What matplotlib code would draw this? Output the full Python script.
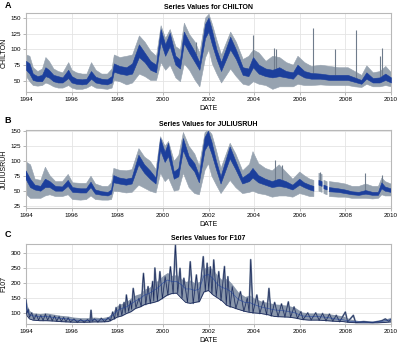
import numpy as np
import matplotlib
matplotlib.use('Agg')
from matplotlib import pyplot as plt

nan = np.nan

# A: CHILTON (dates in fractional years; outer envelope hi/lo, dense core chi/clo)
a_t = [1994.0, 1994.15, 1994.3, 1994.5, 1994.7, 1994.85, 1995.0, 1995.2, 1995.4, 1995.6,
       1995.85, 1996.0, 1996.2, 1996.45, 1996.65, 1996.85, 1997.05, 1997.3, 1997.55, 1997.75,
       1997.85, 1998.1, 1998.4, 1998.65, 1998.95, 1999.2, 1999.45, 1999.7, 1999.9, 2000.1,
       2000.3, 2000.55, 2000.75, 2000.92, 2001.15, 2001.4, 2001.6, 2001.85, 2002.0, 2002.15,
       2002.35, 2002.55, 2002.95, 2003.2, 2003.5, 2003.75, 2003.95, 2004.2, 2004.5, 2004.8,
       2005.1, 2005.4, 2005.7, 2005.9, 2006.2, 2006.5, 2006.9, 2007.3, 2007.7, 2008.1,
       2008.4, 2008.7, 2008.92, 2009.2, 2009.5, 2009.75, 2010.0]
a_hi = [92, 90, 72, 66, 70, 88, 82, 70, 66, 64,
        80, 68, 64, 62, 62, 80, 68, 62, 62, 70,
        92, 88, 90, 92, 122, 112, 98, 90, 138, 118,
        132, 105, 100, 142, 124, 112, 95, 150, 156, 140,
        115, 92, 128, 112, 85, 90, 100, 95, 82, 90,
        88, 80, 76, 90, 80, 74, 76, 74, 72, 72,
        66, 60, 75, 64, 66, 74, 64]
a_chi = [82, 78, 62, 58, 60, 72, 68, 60, 58, 56,
         68, 58, 54, 53, 54, 66, 57, 54, 53, 58,
         78, 74, 72, 78, 108, 95, 82, 76, 132, 108,
         126, 90, 84, 128, 112, 96, 80, 140, 150, 130,
         100, 80, 120, 100, 72, 70, 88, 76, 70, 68,
         72, 66, 64, 76, 66, 63, 62, 60, 60, 60,
         56, 52, 64, 55, 56, 62, 56]
a_clo = [68, 62, 52, 50, 50, 58, 56, 50, 48, 48,
         55, 48, 46, 45, 46, 54, 48, 46, 45, 48,
         65, 62, 60, 62, 88, 80, 68, 64, 112, 90,
         105, 76, 70, 110, 95, 80, 68, 118, 128, 108,
         85, 66, 100, 85, 60, 58, 72, 62, 58, 56,
         58, 56, 54, 62, 56, 54, 54, 52, 52, 52,
         49, 46, 54, 48, 48, 52, 48]
a_lo = [58, 50, 44, 43, 44, 48, 46, 42, 40, 40,
        44, 40, 38, 38, 40, 44, 40, 39, 38, 40,
        52, 50, 45, 48, 62, 58, 52, 52, 80, 68,
        76, 56, 50, 78, 68, 52, 42, 88, 100, 78,
        62, 48, 70, 58, 46, 44, 50, 46, 44, 38,
        42, 42, 42, 46, 44, 44, 45, 44, 44, 44,
        42, 41, 46, 42, 42, 44, 42]
a_spike_t = [2001.45, 2003.95, 2004.85, 2004.97, 2006.6, 2007.55, 2008.45, 2009.5, 2009.6]
a_spike_top = [112, 122, 102, 100, 133, 100, 131, 90, 102]

# B: JULIUSRUH (nan = missing data)
b_t = [1994.0, 1994.2, 1994.4, 1994.65, 1994.85, 1995.05, 1995.3, 1995.6, 1995.85, 1996.05,
       1996.4, 1996.65, 1996.85, 1997.05, 1997.35, 1997.6, 1997.75, 1997.85, 1998.1, 1998.4,
       1998.65, 1998.95, 1999.2, 1999.45, 1999.7, 1999.9, 2000.1, 2000.25, 2000.5, 2000.7,
       2000.9, 2001.15, 2001.4, 2001.6, 2001.85, 2002.0, 2002.15, 2002.35, 2002.55, 2002.95,
       2003.2, 2003.5, 2003.8, 2003.95, 2004.2, 2004.5, 2004.8, 2005.1, 2005.4, 2005.7,
       2006.0, 2006.2, 2006.45, 2006.62, 2006.66, 2006.84, 2006.98, 2007.02, 2007.06, 2007.2,
       2007.25, 2007.3, 2007.7, 2008.0, 2008.3, 2008.6, 2008.9, 2009.2, 2009.45, 2009.6,
       2009.75, 2010.0]
b_hi = [99, 94, 70, 68, 90, 76, 66, 66, 78, 64,
        63, 63, 75, 62, 58, 58, 64, 88, 85, 84,
        86, 121, 107, 100, 86, 141, 125, 133, 100, 110,
        148, 125, 112, 92, 148, 152, 145, 118, 88, 130,
        112, 84, 95, 116, 96, 88, 84, 94, 82, 70,
        82, 76, 70, 68, nan, 80, 78, nan, 68, 66,
        nan, 66, 64, 62, 58, 58, 62, 58, 58, 72,
        66, 62]
b_chi = [84, 70, 60, 58, 70, 66, 58, 57, 68, 56,
         54, 54, 65, 52, 49, 48, 52, 76, 72, 70,
         72, 110, 94, 84, 72, 138, 115, 130, 82, 88,
         138, 108, 96, 76, 140, 150, 132, 100, 74, 124,
         100, 72, 80, 88, 76, 70, 66, 70, 66, 60,
         70, 64, 60, 58, nan, 68, 66, nan, 60, 58,
         nan, 56, 54, 52, 49, 48, 51, 48, 48, 64,
         57, 54]
b_clo = [70, 56, 52, 50, 56, 56, 50, 50, 58, 48,
         47, 47, 56, 45, 43, 42, 45, 64, 62, 60,
         62, 94, 80, 70, 62, 118, 98, 108, 70, 74,
         118, 94, 82, 64, 118, 128, 112, 86, 62, 104,
         86, 62, 66, 72, 64, 60, 56, 58, 56, 52,
         60, 56, 52, 50, nan, 60, 58, nan, 54, 52,
         nan, 49, 48, 46, 44, 43, 45, 43, 43, 54,
         50, 48]
b_lo = [45, 38, 38, 38, 42, 44, 41, 41, 44, 36,
        35, 36, 42, 36, 35, 35, 36, 50, 49, 47,
        48, 60, 55, 50, 47, 80, 66, 72, 50, 52,
        80, 56, 46, 44, 85, 96, 75, 60, 46, 68,
        56, 46, 48, 50, 46, 44, 40, 42, 42, 40,
        46, 44, 41, 41, nan, 50, 48, nan, 46, 44,
        nan, 41, 40, 40, 38, 38, 38, 37, 38, 44,
        42, 42]
b_spike_t = [2004.9, 2005.2, 2006.9, 2008.85, 2009.62]
b_spike_top = [102, 94, 82, 80, 77]

# C: F107 envelope
c_t = [1994.0, 1994.05, 1994.15, 1994.3, 1994.6, 1994.9, 1995.2, 1995.5, 1995.8, 1996.1,
       1996.4, 1996.7, 1997.0, 1997.3, 1997.6, 1997.8, 1998.0, 1998.2, 1998.4, 1998.6,
       1998.8, 1999.0, 1999.2, 1999.4, 1999.6, 1999.8, 2000.0, 2000.2, 2000.4, 2000.6,
       2000.8, 2001.0, 2001.2, 2001.4, 2001.6, 2001.8, 2002.0, 2002.2, 2002.4, 2002.6,
       2002.8, 2003.0, 2003.3, 2003.6, 2003.8, 2004.0, 2004.3, 2004.6, 2004.9, 2005.2,
       2005.5, 2005.8, 2006.1, 2006.4, 2006.8, 2007.2, 2007.55, 2007.9, 2008.2, 2008.6,
       2009.0, 2009.4, 2009.7, 2010.0]
c_hi = [143, 125, 108, 100, 98, 100, 96, 92, 90, 86,
        84, 84, 86, 84, 88, 103, 125, 132, 138, 150,
        160, 165, 180, 185, 200, 210, 225, 235, 225, 228,
        215, 205, 210, 200, 205, 250, 255, 245, 225, 210,
        215, 200, 170, 155, 160, 150, 140, 135, 130, 128,
        125, 118, 103, 100, 100, 98, 94, 90, 80, 74,
        72, 72, 78, 86]
c_mid = [130, 110, 95, 90, 88, 88, 85, 82, 80, 76,
         75, 75, 77, 76, 80, 92, 108, 115, 120, 130,
         140, 148, 160, 165, 175, 185, 200, 210, 205, 205,
         195, 180, 180, 175, 180, 225, 228, 215, 195, 185,
         180, 170, 145, 135, 135, 128, 120, 115, 110, 108,
         105, 100, 90, 88, 88, 85, 80, 77, 72, 70,
         69, 70, 73, 78]
c_lo = [105, 90, 80, 76, 74, 74, 73, 71, 70, 69,
        69, 69, 70, 70, 71, 78, 86, 90, 98, 104,
        115, 120, 128, 132, 135, 140, 150, 160, 165, 166,
        150, 135, 132, 135, 138, 170, 175, 160, 150, 140,
        125, 120, 112, 105, 102, 100, 98, 94, 88, 87,
        86, 83, 78, 76, 76, 74, 72, 71, 68, 67,
        67, 67, 68, 70]
# C: visible peaks and troughs (rotation bursts)
c_pk_t = [1994.0, 1994.05, 1994.1, 1994.15, 1994.25, 1994.35, 1994.45, 1994.55, 1994.65, 1994.75,
          1994.85, 1994.95, 1995.05, 1995.15, 1995.25, 1995.35, 1995.45, 1995.55, 1995.65, 1995.75,
          1995.85, 1995.95, 1996.1, 1996.25, 1996.4, 1996.55, 1996.7, 1996.8, 1996.85, 1996.9,
          1997.0, 1997.15, 1997.3, 1997.45, 1997.6, 1997.7, 1997.8, 1997.88, 1997.95, 1998.03,
          1998.12, 1998.2, 1998.3, 1998.35, 1998.4, 1998.5, 1998.58, 1998.63, 1998.7, 1998.82,
          1998.95, 1999.05, 1999.15, 1999.25, 1999.35, 1999.45, 1999.55, 1999.6, 1999.65, 1999.76,
          1999.87, 1999.98, 2000.1, 2000.22, 2000.33, 2000.45, 2000.55, 2000.65, 2000.75, 2000.84,
          2000.92, 2001.08, 2001.2, 2001.33, 2001.47, 2001.58, 2001.77, 2001.86, 2001.94, 2002.01,
          2002.08, 2002.15, 2002.23, 2002.34, 2002.45, 2002.55, 2002.7, 2002.78, 2002.85, 2002.95,
          2003.04, 2003.2, 2003.4, 2003.55, 2003.7, 2003.78, 2003.85, 2003.95, 2004.12, 2004.25,
          2004.4, 2004.55, 2004.65, 2004.75, 2004.9, 2005.05, 2005.2, 2005.35, 2005.5, 2005.6,
          2005.75, 2005.9, 2006.05, 2006.15, 2006.35, 2006.5, 2006.7, 2006.85, 2007.0, 2007.15,
          2007.3, 2007.45, 2007.6, 2007.75, 2008.0, 2008.1, 2008.35, 2008.45, 2008.8, 2009.2,
          2009.6, 2009.75, 2009.9, 2010.0]
c_pk_v = [143, 100, 112, 85, 100, 78, 95, 76, 92, 75,
          96, 76, 92, 74, 90, 73, 88, 72, 85, 71,
          84, 70, 80, 69, 78, 69, 78, 70, 109, 72,
          80, 70, 82, 71, 84, 74, 103, 80, 118, 88,
          128, 92, 135, 100, 160, 105, 140, 112, 182, 118,
          149, 122, 232, 128, 188, 132, 205, 140, 250, 140,
          238, 148, 221, 160, 254, 165, 326, 166, 249, 150,
          216, 135, 271, 132, 227, 138, 288, 172, 266, 175,
          254, 165, 277, 155, 238, 142, 255, 128, 221, 120,
          188, 115, 171, 106, 150, 104, 278, 100, 160, 98,
          140, 94, 182, 90, 135, 88, 130, 87, 137, 86,
          120, 82, 104, 78, 100, 77, 100, 76, 98, 74,
          96, 73, 92, 71, 103, 70, 92, 68, 71, 68,
          74, 80, 72, 78]

GREY = '#97a3b0'
BLUE = '#1c3f9c'
NAVY = '#1b2a5c'

plt.rcParams['font.family'] = ['Liberation Sans', 'DejaVu Sans']
fig = plt.figure(figsize=(4.0, 3.46), dpi=100)


def setup(ax, ylim, yticks, name, letter, ly):
    ax.set_xlim(1994, 2010)
    ax.set_ylim(*ylim)
    ax.set_xticks(range(1994, 2011, 2))
    ax.set_yticks(yticks)
    ax.grid(color='#e4e4e4', lw=0.6, zorder=0)
    ax.set_axisbelow(True)
    for s in ax.spines.values():
        s.set_color('#b8b8b8')
        s.set_linewidth(0.8)
    ax.tick_params(labelsize=4.5, length=2, width=0.5, color='#999999', pad=1.5)
    ax.set_title('Series Values for ' + name, fontsize=5, fontweight='bold', pad=3)
    ax.set_xlabel('DATE', fontsize=5, labelpad=2)
    ax.set_ylabel(name, fontsize=5, labelpad=2)
    fig.text(0.012, ly, letter, fontsize=6.5, fontweight='bold', va='center')


def station(rect, t, hi, chi, clo, lo, sp_t, sp_top):
    ax = fig.add_axes(rect)
    t = np.array(t, float)
    chi = np.array(chi, float)
    ok = ~np.isnan(chi)
    base = np.interp(sp_t, t[ok], chi[ok])
    ax.fill_between(t, lo, hi, color=GREY, lw=0.4, zorder=2)
    ax.vlines(sp_t, base, sp_top, color='#6f7c8c', lw=0.8, zorder=2)
    ax.fill_between(t, clo, chi, color=BLUE, lw=0.4, edgecolor=BLUE, zorder=3)
    return ax


ax = station([0.065, 0.734, 0.9125, 0.228], a_t, a_hi, a_chi, a_clo, a_lo, a_spike_t, a_spike_top)
setup(ax, (33, 157), [50, 75, 100, 125, 150], 'CHILTON', 'A', 0.983)

ax = station([0.065, 0.399, 0.9125, 0.225], b_t, b_hi, b_chi, b_clo, b_lo, b_spike_t, b_spike_top)
setup(ax, (22, 152), [25, 50, 75, 100, 125, 150], 'JULIUSRUH', 'B', 0.652)

ax = fig.add_axes([0.065, 0.0636, 0.9125, 0.231])
ax.fill_between(c_t, c_lo, c_hi, color='#8b98ac', lw=0, zorder=2)
ax.plot(c_pk_t, c_pk_v, color='#7d8ca3', lw=1.3, zorder=3)
ax.plot(c_pk_t, c_pk_v, color=NAVY, lw=0.5, zorder=4)
ax.plot(c_t, c_lo, color=NAVY, lw=0.6, zorder=4)
ax.plot(c_t, c_mid, color=BLUE, lw=0.5, alpha=0.7, zorder=4)
setup(ax, (63, 330), [100, 150, 200, 250, 300], 'F107', 'C', 0.322)

plt.savefig('out.png', dpi=100)
